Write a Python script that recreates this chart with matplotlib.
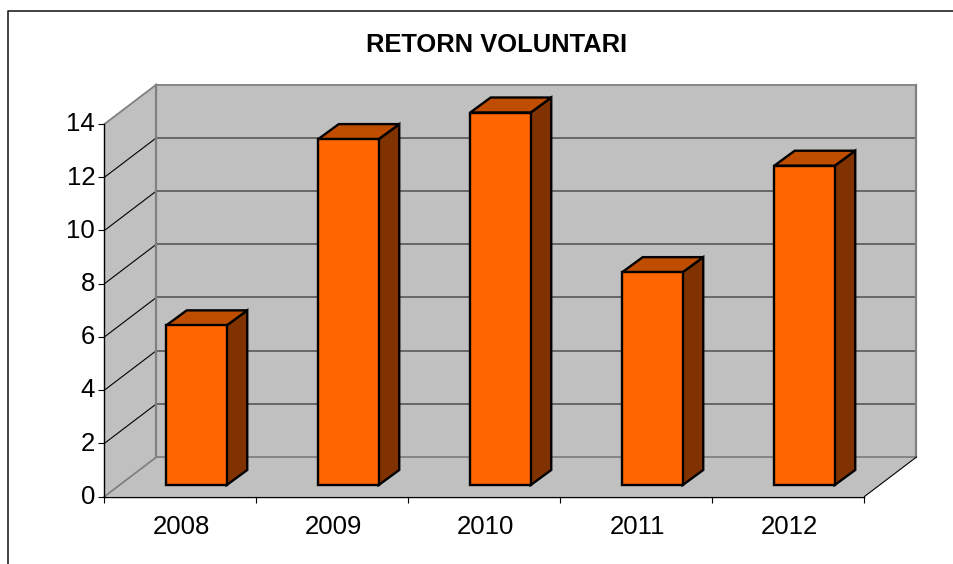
import matplotlib
matplotlib.use("Agg")
import matplotlib.pyplot as plt
from matplotlib.lines import Line2D
from matplotlib.patches import Polygon
from matplotlib.transforms import ScaledTranslation

years = ["2008", "2009", "2010", "2011", "2012"]
values = [6, 13, 14, 8, 12]
y_ticks = [0, 2, 4, 6, 8, 10, 12, 14]
title = "RETORN VOLUNTARI"

W, H = 954, 564
plt.rcParams["font.family"] = ["Liberation Sans", "DejaVu Sans"]
fig = plt.figure(figsize=(W / 100, H / 100), dpi=100, facecolor="white")

# front plane of the pseudo-3D box
L, R, B, T = 104.5, 864.5, 496.5, 124.0
ax = fig.add_axes([L / W, 1 - B / H, (R - L) / W, (B - T) / H])
ax.set_xlim(-0.5, 4.5)
ax.set_ylim(0, 14)
ax.patch.set_visible(False)
px = (R - L) / 5          # pixels per category
py = (B - T) / 14         # pixels per value unit


def P(x, y, dx=0, dy=0):
    """data point shifted by a depth given in pixels"""
    return (x + dx / px, y + dy / py)


WALL_DX, WALL_DY = 52, 39.5
wall_col = "#C0C0C0"
edge_grey = "#808080"

# walls and floor
ax.add_patch(Polygon([P(-0.5, 0, WALL_DX, WALL_DY), P(4.5, 0, WALL_DX, WALL_DY),
                      P(4.5, 14, WALL_DX, WALL_DY), P(-0.5, 14, WALL_DX, WALL_DY)],
                     fc=wall_col, ec="none", clip_on=False, zorder=1))
ax.add_patch(Polygon([P(-0.5, 0), P(-0.5, 14), P(-0.5, 14, WALL_DX, WALL_DY),
                      P(-0.5, 0, WALL_DX, WALL_DY)],
                     fc=wall_col, ec="none", clip_on=False, zorder=1))
ax.add_patch(Polygon([P(-0.5, 0), P(4.5, 0), P(4.5, 0, WALL_DX, WALL_DY),
                      P(-0.5, 0, WALL_DX, WALL_DY)],
                     fc=wall_col, ec="none", clip_on=False, zorder=1))

# grid lines
for v in y_ticks:
    inner = 0 < v < 14
    col_back = "#606060" if inner else edge_grey
    col_side = "black" if inner else edge_grey
    xs, ys = zip(P(-0.5, v, WALL_DX, WALL_DY), P(4.5, v, WALL_DX, WALL_DY))
    ax.plot(xs, ys, color=col_back, lw=1.3, clip_on=False, zorder=2, solid_capstyle="butt")
    xs, ys = zip(P(-0.5, v), P(-0.5, v, WALL_DX, WALL_DY))
    ax.plot(xs, ys, color=col_side, lw=0.8 if inner else 1.3, clip_on=False, zorder=2)

# wall outline
for a, b in [(P(-0.5, 0, WALL_DX, WALL_DY), P(-0.5, 14, WALL_DX, WALL_DY)),
             (P(4.5, 0, WALL_DX, WALL_DY), P(4.5, 14, WALL_DX, WALL_DY))]:
    ax.plot(*zip(a, b), color=edge_grey, lw=1.6, clip_on=False, zorder=2)
ax.plot(*zip(P(4.5, 0), P(4.5, 0, WALL_DX, WALL_DY)), color="black", lw=0.8,
        clip_on=False, zorder=2)

# bars
BAR_W, OFF_X, OFF_Y = 60.5, 16, 11.5
DX, DY = 20.5, 15
for i, v in enumerate(values):
    x0 = i + (OFF_X - BAR_W / 2) / px
    x1 = i + (OFF_X + BAR_W / 2) / px
    y0 = OFF_Y / py
    top = y0 + v
    kw = dict(ec="black", lw=1.7, joinstyle="miter", clip_on=False, zorder=3)
    ax.add_patch(Polygon([P(x1, y0), P(x1, y0, DX, DY), P(x1, top, DX, DY), P(x1, top)],
                         fc="#803300", **kw))
    ax.add_patch(Polygon([P(x0, top), P(x1, top), P(x1, top, DX, DY), P(x0, top, DX, DY)],
                         fc="#BF4D00", **kw))
    ax.add_patch(Polygon([P(x0, y0), P(x1, y0), P(x1, top), P(x0, top)],
                         fc="#FF6600", **kw))

# axes
for s in ("top", "right"):
    ax.spines[s].set_visible(False)
for s in ("left", "bottom"):
    ax.spines[s].set_linewidth(1.0)
    ax.spines[s].set_zorder(4)
ax.set_yticks(y_ticks)
ax.set_yticklabels([str(v) for v in y_ticks])
ax.set_xticks([i - 0.5 for i in range(6)])
ax.set_xticklabels([])
ax.set_xticks(range(5), labels=years, minor=True)
ax.tick_params(axis="y", length=4.5, width=0.8, labelsize=18.5, pad=2.2)
ax.tick_params(axis="x", which="major", length=4.5, width=0.8)
ax.tick_params(axis="x", which="minor", length=0, labelsize=18.5, pad=13)
for lab in ax.get_yticklabels():
    lab.set_transform(lab.get_transform() + ScaledTranslation(0, 1.5 / 72, fig.dpi_scale_trans))
for lab in ax.get_xticklabels(minor=True):
    lab.set_transform(lab.get_transform() + ScaledTranslation(0.5 / 72, 0, fig.dpi_scale_trans))

fig.text(496.5 / W, 1 - 45 / H, title, ha="center", va="center",
         fontsize=18.4, fontweight="bold", color="black")

# chart frame: only left and top edges are visible in the crop
fig.add_artist(Line2D([8.5 / W, 8.5 / W, 1], [0, 1 - 10.5 / H, 1 - 10.5 / H],
                      color="#222222", lw=1.2, transform=fig.transFigure))

fig.savefig("out.png", dpi=100)
